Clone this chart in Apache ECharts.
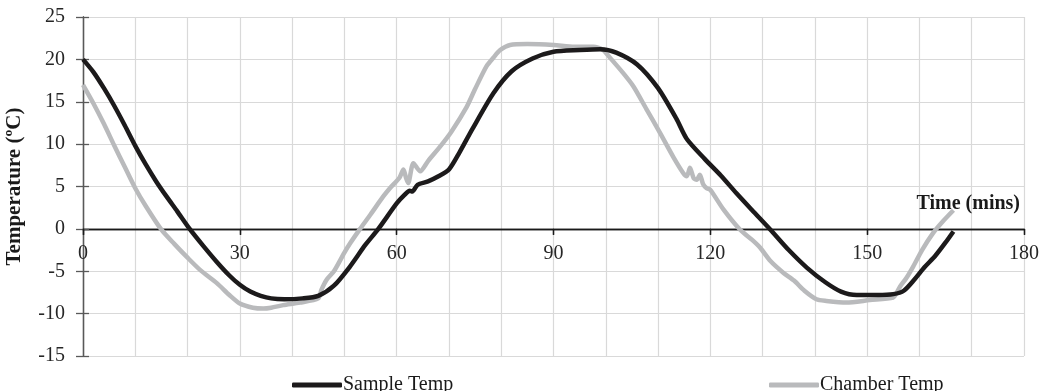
<!DOCTYPE html>
<html><head><meta charset="utf-8">
<script src="https://cdn.jsdelivr.net/npm/echarts@6/dist/echarts.min.js"></script>
<style>html,body{margin:0;padding:0;background:#fff}#c{width:1041px;height:391px}</style>
</head><body><div id="c"></div>
<script>
const xTicks = [0, 30, 60, 90, 120, 150, 180];
const yTicks = [-15, -10, -5, 0, 5, 10, 15, 20, 25];
const seriesNames = ['Sample Temp', 'Chamber Temp'];

const sampleTime = [0,2,4,6,8,10,12,14,16,18,20.4,23,25.6,28,30,32,34,36,38.5,42,45,48,51,54,56.5,60,61.5,62.5,63,64,66,68,70,72,74.5,78.5,82,86,90,95,99,102,106,110,113.5,115.5,119,122,125,128,131.5,135,138.5,142,145,148,152,155,157,159,161,163,165,166.5];
const sampleTemp = [20.0,18.5,16.6,14.5,12.2,9.8,7.6,5.6,3.8,2.1,0,-2.0,-3.9,-5.5,-6.6,-7.4,-7.9,-8.2,-8.3,-8.2,-7.9,-6.7,-4.5,-1.9,0,3.0,4.0,4.5,4.4,5.2,5.6,6.2,7.0,9.0,11.8,16.0,18.6,20.1,20.9,21.1,21.2,20.8,19.4,16.6,13.0,10.6,8.2,6.3,4.2,2.2,-0.1,-2.5,-4.6,-6.3,-7.4,-7.8,-7.8,-7.7,-7.3,-6.0,-4.5,-3.2,-1.6,-0.3];

const chamberTime = [0,2,4,6,8,10,12,15,17.5,20,22.5,25.6,28,30,32.5,34.5,36,38.3,41.5,45,45.6,46.6,48,50,51.1,53,55,57.4,58.7,60.5,61.3,61.8,62.2,63.2,64.5,66,68.3,70.5,73.4,75,77.2,78.5,79.8,81.7,85,90,94,97.6,99.5,100.8,103.3,105.3,107.8,110.4,112.9,114.8,115.5,116.1,116.8,117.4,118,118.6,119.3,120,122.5,125.7,128,129.5,131.5,134,136,138,140.3,142.2,146,150.5,155,155.6,156.3,157.5,158.8,160.5,162.6,164.5,166.5];
const chamberTemp = [17.0,14.8,12.4,9.8,7.3,4.8,2.7,-0.1,-1.8,-3.4,-4.9,-6.4,-7.8,-8.8,-9.3,-9.4,-9.3,-9.0,-8.7,-8.2,-7.2,-6.0,-5.0,-2.8,-1.7,0,1.7,3.8,4.8,6.0,7.0,6.0,5.4,7.75,6.8,8.0,9.7,11.5,14.4,16.5,19.2,20.2,21.1,21.7,21.8,21.7,21.5,21.5,21.1,20.2,18.4,16.8,14.1,11.3,8.5,6.6,6.2,7.2,6.0,5.8,6.4,5.3,4.8,4.6,2.3,-0.1,-1.3,-2.2,-3.8,-5.2,-6.1,-7.3,-8.3,-8.5,-8.7,-8.4,-8.1,-7.6,-6.8,-5.8,-4.45,-2.5,-0.5,0.9,2.2];

const zip = (a, b) => a.map((v, i) => [v, b[i]]);
const FONT = '"Liberation Serif", "Times New Roman", serif';
const lblStyle = {fontFamily: FONT, fontSize: 20, color: '#262626'};

const W = 1041, H = 391;
const G = {left: 83, right: 17, top: 17, bottom: 35};
const yMin = yTicks[0], yMax = yTicks[yTicks.length - 1];
const plotH = H - G.top - G.bottom;
const zeroOffset = (0 - yMin) / (yMax - yMin) * plotH;

const chart = echarts.init(document.getElementById('c'), null, {renderer: 'canvas'});
const xBase = {type: 'value', min: xTicks[0], max: xTicks[xTicks.length - 1], interval: 30, gridIndex: 0};
const yBase = {type: 'value', min: yMin, max: yMax, interval: 5, gridIndex: 0};
chart.setOption({
  animation: false,
  grid: Object.assign({containLabel: false, outerBoundsMode: 'none'}, G),
  xAxis: [
    Object.assign({}, xBase, {
      name: 'Time (mins)', nameLocation: 'end', nameGap: -4,
      nameTextStyle: {fontFamily: FONT, fontSize: 20, fontWeight: 'bold', color: '#1a1a1a', align: 'right', verticalAlign: 'bottom', padding: [0, 0, 15, 0]},
      axisLine: {onZero: true, onZeroAxisIndex: 0, lineStyle: {color: '#1a1a1a', width: 1.3}},
      axisTick: {show: true, inside: false, length: 6, lineStyle: {color: '#1a1a1a', width: 1.3}},
      axisLabel: {show: false},
      splitLine: {show: true, lineStyle: {color: '#d9d9d9', width: 1.2}},
      minorTick: {show: false, splitNumber: 3},
      minorSplitLine: {show: true, lineStyle: {color: '#d9d9d9', width: 1.2}}
    }),
    Object.assign({}, xBase, {
      axisLine: {onZero: true, onZeroAxisIndex: 0, lineStyle: {color: '#1a1a1a', width: 1.3}},
      axisTick: {show: true, inside: true, length: 6, lineStyle: {color: '#1a1a1a', width: 1.3}},
      axisLabel: {show: false}, splitLine: {show: false}
    }),
    Object.assign({}, xBase, {
      position: 'bottom', offset: -zeroOffset,
      axisLine: {show: false, onZero: false}, axisTick: {show: false},
      axisLabel: Object.assign({margin: 15, showMinLabel: true, showMaxLabel: true}, lblStyle),
      splitLine: {show: false}
    })
  ],
  yAxis: [
    Object.assign({}, yBase, {
      name: 'Temperature (ºC)', nameLocation: 'middle', nameGap: 58, nameRotate: 90,
      nameTextStyle: {fontFamily: FONT, fontSize: 21, fontWeight: 'bold', color: '#1a1a1a'},
      axisLine: {show: true, onZero: false, lineStyle: {color: '#595959', width: 1.3}},
      axisTick: {show: true, inside: false, length: 7, lineStyle: {color: '#595959', width: 1.3}},
      axisLabel: Object.assign({margin: 18}, lblStyle),
      splitLine: {show: true, lineStyle: {color: '#d9d9d9', width: 1.2}}
    }),
    Object.assign({}, yBase, {
      position: 'left',
      axisLine: {show: true, onZero: false, lineStyle: {color: '#595959', width: 1.3}},
      axisTick: {show: true, inside: true, length: 6, lineStyle: {color: '#595959', width: 1.3}},
      axisLabel: {show: false}, splitLine: {show: false}
    })
  ],
  legend: [
    {data: [seriesNames[0]], left: 287, top: 370, icon: 'roundRect', itemWidth: 50, itemHeight: 5, itemGap: 0,
     textStyle: {fontFamily: FONT, fontSize: 20, color: '#1a1a1a', padding: [0, 0, 0, -4]}},
    {data: [seriesNames[1]], left: 764, top: 370, icon: 'roundRect', itemWidth: 50, itemHeight: 5, itemGap: 0,
     textStyle: {fontFamily: FONT, fontSize: 20, color: '#1a1a1a', padding: [0, 0, 0, -4]}}
  ],
  series: [
    {name: seriesNames[1], type: 'line', xAxisIndex: 0, yAxisIndex: 0, data: zip(chamberTime, chamberTemp),
     showSymbol: false, symbol: 'none', smooth: 0.25, lineStyle: {color: '#b9babc', width: 4.5}, itemStyle: {color: '#b9babc'}, z: 2},
    {name: seriesNames[0], type: 'line', xAxisIndex: 0, yAxisIndex: 0, data: zip(sampleTime, sampleTemp),
     showSymbol: false, symbol: 'none', smooth: 0.25, lineStyle: {color: '#1c1a1b', width: 4.5}, itemStyle: {color: '#1c1a1b'}, z: 3}
  ]
});
</script></body></html>
